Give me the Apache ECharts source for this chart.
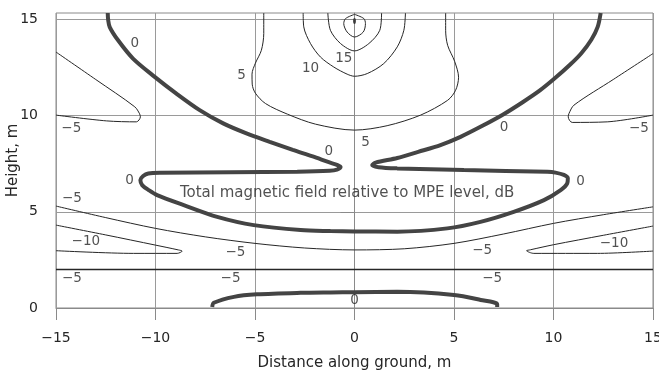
<!DOCTYPE html>
<html>
<head>
<meta charset="utf-8">
<script src="https://cdn.jsdelivr.net/npm/echarts@6/dist/echarts.min.js"></script>
<style>
  html, body { margin: 0; padding: 0; background: #fff; }
  #chart { width: 659px; height: 372px; }
</style>
</head>
<body>
<div id="chart"></div>
<script>
// Axis ticks
const xTicks = [-15, -10, -5, 0, 5, 10, 15];
const yTicks = [0, 5, 10, 15];

// 0 dB contour: both upper arms joined through the central lobe
const zeroMain = [
  [-12.40, 15.34], [-12.38, 15.0], [-12.30, 14.61], [-11.88, 13.92], [-11.13, 12.97],
  [-10.04, 12.02], [-8.95, 11.15], [-7.78, 10.29], [-6.60, 9.60], [-5.43, 9.08],
  [-4.26, 8.64], [-3.10, 8.22], [-2.10, 7.88], [-1.29, 7.58], [-0.85, 7.43],
  [-0.70, 7.33], [-0.88, 7.20], [-1.25, 7.14], [-2.88, 7.09], [-6.23, 7.06],
  [-9.75, 7.03], [-10.36, 6.99], [-10.62, 6.86], [-10.76, 6.65], [-10.67, 6.39],
  [-10.34, 6.13], [-9.92, 5.87], [-8.58, 5.35], [-6.90, 4.74], [-5.06, 4.31],
  [-2.71, 4.05], [-1.21, 4.00], [0, 3.98], [2.15, 3.97], [4.66, 4.14],
  [6.33, 4.48], [8.00, 5.00], [9.52, 5.61], [10.36, 6.13], [10.69, 6.48],
  [10.72, 6.75], [10.52, 6.92], [10.10, 7.04], [9.69, 7.08], [5.50, 7.17],
  [2.15, 7.26], [1.21, 7.32], [0.89, 7.43], [1.06, 7.56], [2.15, 7.80],
  [3.20, 8.12], [4.32, 8.47], [5.33, 8.90], [6.33, 9.42], [7.45, 10.05],
  [8.45, 10.70], [9.30, 11.30], [10.05, 11.93], [10.80, 12.62], [11.40, 13.25],
  [11.90, 13.95], [12.22, 14.62], [12.37, 15.34]
];

// 0 dB contour near the ground
const zeroGround = [
  [-7.15, 0.05], [-7.07, 0.27], [-6.06, 0.58], [-4.90, 0.71], [-2.71, 0.79],
  [-1.20, 0.81], [0, 0.82], [2.15, 0.84], [5.00, 0.68], [6.34, 0.42],
  [7.17, 0.20], [7.17, 0.05]
];

// +5, +10, +15, +20 dB contours around the conductor
const plus5 = [
  [-4.56, 15.34], [-4.56, 14.27], [-4.68, 13.40], [-4.98, 12.73], [-5.15, 12.16],
  [-5.14, 11.64], [-4.98, 11.17], [-4.47, 10.63], [-3.37, 10.08], [-1.96, 9.56],
  [0, 9.25], [1.64, 9.48], [3.32, 10.03], [4.68, 10.80], [5.08, 11.32],
  [5.23, 12.00], [5.03, 12.83], [4.68, 13.66], [4.58, 14.44], [4.58, 15.34]
];
const plus10 = [
  [-2.58, 15.34], [-2.55, 14.62], [-2.21, 13.75], [-1.71, 13.05], [-1.04, 12.53],
  [-0.37, 12.16], [0, 12.05], [0.64, 12.19], [1.47, 12.71], [2.15, 13.58],
  [2.48, 14.44], [2.56, 15.34]
];
const plus15 = [
  [-1.34, 15.34], [-1.21, 14.44], [-0.70, 13.75], [0, 13.37], [0.72, 13.75],
  [1.27, 14.44], [1.36, 15.34]
];
const plus20 = [
  [0, 15.27], [-0.45, 15.05], [-0.54, 14.79], [-0.37, 14.35], [0, 14.09],
  [0.44, 14.35], [0.55, 14.79], [0.47, 15.05], [0, 15.27]
];
const peak = [[0, 14.92]];

// -5 dB and -10 dB contours
const minus5UpperLeft = [
  [-15, 13.31], [-13, 11.88], [-11.04, 10.46], [-10.80, 10.10], [-10.76, 9.94],
  [-10.96, 9.68], [-12.47, 9.73], [-15, 10.03]
];
const minus5UpperRight = [
  [15, 13.23], [13, 11.88], [11.03, 10.55], [10.78, 10.12], [10.74, 9.94],
  [10.94, 9.65], [12.70, 9.68], [15, 10.03]
];
const minus5Lower = [
  [-15, 5.30], [-12.5, 4.70], [-10, 4.14], [-7.5, 3.70], [-5, 3.36],
  [-2.5, 3.12], [0, 3.02], [2.5, 3.08], [5, 3.36], [7.5, 3.85],
  [10, 4.40], [12.5, 4.85], [15, 5.26]
];
const minus5Band = [[-15, 2.0], [0, 2.0], [15, 2.0]];
const minus10Left = [
  [-15, 4.31], [-12.5, 3.80], [-10, 3.27], [-8.85, 3.02], [-8.66, 2.96],
  [-8.91, 2.84], [-11.1, 2.84], [-15, 2.98]
];
const minus10Right = [
  [15, 4.26], [12.5, 3.78], [10, 3.29], [8.85, 3.03], [8.65, 2.98],
  [9.01, 2.84], [12.2, 2.84], [15, 2.96]
];

// Contour level labels: [x, y, text]
const contourLabels = [
  [-11.04, 13.78, '0'], [-1.29, 8.12, '0'], [7.51, 9.37, '0'],
  [-11.30, 6.65, '0'], [11.36, 6.56, '0'], [0, 0.40, '0'],
  [-5.68, 12.10, '5'], [0.55, 8.60, '5'], [-2.21, 12.47, '10'], [-0.54, 12.97, '15'],
  [-14.23, 9.33, '−5'], [14.29, 9.33, '−5'],
  [-14.20, 5.70, '−5'], [-5.98, 2.87, '−5'], [6.42, 3.01, '−5'],
  [-14.20, 1.54, '−5'], [-6.23, 1.54, '−5'], [6.92, 1.54, '−5'],
  [-13.50, 3.45, '−10'], [13.04, 3.36, '−10']
];
const annotation = [[-0.37, 5.97, 'Total magnetic field relative to MPE level, dB']];

const FONT = 'DejaVu Sans';
const INK = '#262626';

function contour(data, width, color) {
  return {
    type: 'line', data: data, showSymbol: false, smooth: 0.3,
    lineStyle: { width: width, color: color }, z: 3, silent: true
  };
}
function textLayer(data, size) {
  return {
    type: 'scatter', data: data, symbolSize: 1, z: 5, silent: true,
    itemStyle: { color: 'transparent' },
    label: {
      show: true, position: 'inside', formatter: p => p.value[2],
      color: INK, fontFamily: FONT, fontSize: size
    }
  };
}
const minusFmt = v => String(v).replace('-', '−');

const chart = echarts.init(document.getElementById('chart'), null, { renderer: 'canvas' });
chart.setOption({
  animation: false,
  backgroundColor: '#fff',
  grid: {
    left: 56, right: 6, top: 13, bottom: 64, outerBoundsMode: 'none', containLabel: false,
    show: true, borderColor: '#8a8a8a', borderWidth: 1
  },
  xAxis: {
    type: 'value', min: xTicks[0], max: xTicks[xTicks.length - 1], interval: 5,
    axisLine: { show: true, lineStyle: { color: '#8a8a8a' } },
    axisTick: { show: true, length: 12, lineStyle: { color: '#8a8a8a' } },
    splitLine: { show: true, lineStyle: { color: '#9a9a9a', width: 1 } },
    axisLabel: { formatter: minusFmt, color: INK, fontFamily: FONT, fontSize: 14, margin: 23 },
    name: 'Distance along ground, m', nameLocation: 'middle', nameGap: 48, nameMoveOverlap: false,
    nameTextStyle: { color: INK, fontFamily: FONT, fontSize: 15 }
  },
  yAxis: {
    type: 'value', min: yTicks[0], max: 15.34, interval: 5,
    axisLine: { show: true, lineStyle: { color: '#8a8a8a' } },
    axisTick: { show: true, length: 14, customValues: yTicks, lineStyle: { color: '#8a8a8a' } },
    splitLine: { show: true, lineStyle: { color: '#9a9a9a', width: 1 } },
    axisLabel: { customValues: yTicks, color: INK, fontFamily: FONT, fontSize: 14, margin: 18 },
    name: 'Height, m', nameLocation: 'middle', nameGap: 35, nameMoveOverlap: false,
    nameTextStyle: { color: INK, fontFamily: FONT, fontSize: 15 }
  },
  series: [
    contour(zeroMain, 4, '#444'),
    contour(zeroGround, 4, '#444'),
    contour(plus5, 1, INK),
    contour(plus10, 1, INK),
    contour(plus15, 1, INK),
    contour(plus20, 1, INK),
    contour(minus5UpperLeft, 1, INK),
    contour(minus5UpperRight, 1, INK),
    contour(minus5Lower, 1, INK),
    contour(minus5Band, 1.6, INK),
    contour(minus10Left, 1, INK),
    contour(minus10Right, 1, INK),
    {
      type: 'scatter', data: peak, symbol: 'circle', symbolSize: [3, 6], z: 4, silent: true,
      itemStyle: { color: INK }
    },
    textLayer(contourLabels, 13.5),
    textLayer(annotation, 15)
  ]
});
</script>
</body>
</html>
